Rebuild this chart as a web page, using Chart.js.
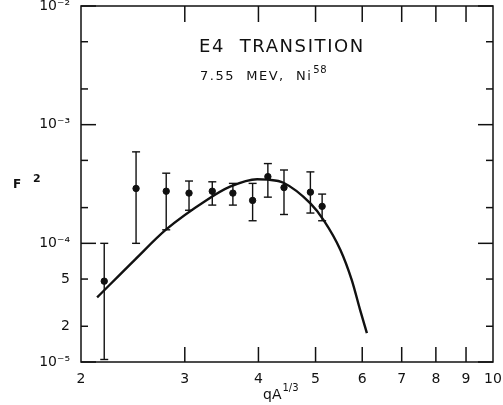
<!DOCTYPE html>
<html>
<head>
<meta charset="utf-8">
<script src="https://cdn.jsdelivr.net/npm/chart.js@4"></script>
<style>
  body { margin: 0; background: #fff; }
</style>
</head>
<body>
<canvas id="chart" width="503" height="405"></canvas>
<script>
// measured points (qA^1/3, F^2) with error bar ends
const qData = [2.19, 2.48, 2.79, 3.05, 3.34, 3.62, 3.91, 4.15, 4.42, 4.90, 5.13];
const f2Data = [4.8e-5, 2.9e-4, 2.75e-4, 2.65e-4, 2.75e-4, 2.65e-4, 2.3e-4, 3.65e-4, 2.95e-4, 2.7e-4, 2.05e-4];
const f2High = [1.0e-4, 5.9e-4, 3.9e-4, 3.35e-4, 3.3e-4, 3.2e-4, 3.2e-4, 4.7e-4, 4.15e-4, 4.0e-4, 2.6e-4];
const f2Low = [1.05e-5, 1.0e-4, 1.3e-4, 1.9e-4, 2.1e-4, 2.1e-4, 1.55e-4, 2.45e-4, 1.75e-4, 1.8e-4, 1.55e-4];

// theory curve
const curveQ = [2.13, 2.47, 2.79, 3.27, 3.58, 3.98, 4.15, 4.41, 4.90, 5.16, 5.51, 5.76, 5.95, 6.11];
const curveF2 = [3.5e-5, 7.3e-5, 1.31e-4, 2.32e-4, 3.0e-4, 3.47e-4, 3.44e-4, 3.24e-4, 2.17e-4, 1.57e-4, 8.8e-5, 4.9e-5, 2.75e-5, 1.75e-5];

const xTicks = [2, 3, 4, 5, 6, 7, 8, 9, 10];
const yTicks = [1e-5, 2e-5, 5e-5, 1e-4, 2e-4, 5e-4, 1e-3, 2e-3, 5e-3, 1e-2];
const supers = { "-2": "⁻²", "-3": "⁻³", "-4": "⁻⁴", "-5": "⁻⁵" };

const FONT = "'DejaVu Sans', sans-serif";

function isDecade(v) {
  const e = Math.log10(v);
  return Math.abs(e - Math.round(e)) < 1e-6;
}

function line(ctx, x1, y1, x2, y2) {
  ctx.beginPath();
  ctx.moveTo(x1, y1);
  ctx.lineTo(x2, y2);
  ctx.stroke();
}

const errorBars = {
  id: "errorBars",
  afterDatasetsDraw(chart) {
    const { ctx, scales: { x, y } } = chart;
    ctx.save();
    ctx.strokeStyle = "#111";
    ctx.lineWidth = 1.4;
    qData.forEach((q, i) => {
      const px = x.getPixelForValue(q);
      const top = y.getPixelForValue(f2High[i]);
      const bot = y.getPixelForValue(f2Low[i]);
      line(ctx, px, top, px, bot);
      line(ctx, px - 4, top, px + 4, top);
      line(ctx, px - 4, bot, px + 4, bot);
    });
    ctx.restore();
  }
};

const frame = {
  id: "frame",
  afterDraw(chart) {
    const { ctx, chartArea: a, scales: { x, y } } = chart;
    ctx.save();
    ctx.strokeStyle = "#111";
    ctx.lineWidth = 1.5;
    ctx.strokeRect(a.left, a.top, a.right - a.left, a.bottom - a.top);

    yTicks.forEach(v => {
      const py = y.getPixelForValue(v);
      const len = isDecade(v) ? 15 : 7;
      line(ctx, a.left, py, a.left + len, py);
      line(ctx, a.right, py, a.right - len, py);
    });
    xTicks.slice(1, -1).forEach(v => {
      const px = x.getPixelForValue(v);
      line(ctx, px, a.bottom, px, a.bottom - 15);
      line(ctx, px, a.top, px, a.top + 16);
    });

    ctx.fillStyle = "#111";
    ctx.textBaseline = "alphabetic";
    ctx.textAlign = "left";
    // title
    ctx.letterSpacing = "1.6px";
    ctx.font = "18px " + FONT;
    ctx.fillText("E4  TRANSITION", 199, 52);
    ctx.letterSpacing = "1.5px";
    ctx.font = "13px " + FONT;
    ctx.fillText("7.55  MEV,  Ni", 200, 80);
    const w = ctx.measureText("7.55  MEV,  Ni").width;
    ctx.letterSpacing = "0.5px";
    ctx.font = "10px " + FONT;
    ctx.fillText("58", 200 + w + 1, 73);
    ctx.letterSpacing = "0px";

    // y axis title
    ctx.font = "bold 12px " + FONT;
    ctx.fillText("F", 13, 188);
    ctx.font = "bold 11px " + FONT;
    ctx.fillText("2", 33, 182);

    // x axis title
    ctx.font = "14px " + FONT;
    ctx.fillText("qA", 263, 399);
    const w2 = ctx.measureText("qA").width;
    ctx.font = "10px " + FONT;
    ctx.fillText("1/3", 263 + w2 + 1, 391);
    ctx.restore();
  }
};

new Chart(document.getElementById("chart"), {
  type: "scatter",
  data: {
    datasets: [
      {
        label: "data",
        data: qData.map((q, i) => ({ x: q, y: f2Data[i] })),
        backgroundColor: "#111",
        borderColor: "#111",
        pointRadius: 3.2,
        showLine: false
      },
      {
        label: "theory",
        data: curveQ.map((q, i) => ({ x: q, y: curveF2[i] })),
        borderColor: "#111",
        borderWidth: 2.4,
        pointRadius: 0,
        showLine: true,
        cubicInterpolationMode: "monotone"
      }
    ]
  },
  options: {
    responsive: false,
    animation: false,
    layout: { padding: { top: 6, right: 10, left: 0, bottom: 0 } },
    plugins: {
      legend: { display: false },
      tooltip: { enabled: false }
    },
    scales: {
      x: {
        type: "logarithmic",
        min: 2,
        max: 10,
        afterBuildTicks: s => { s.ticks = xTicks.map(v => ({ value: v })); },
        afterFit: s => { s.height = 43; s.paddingLeft = 0; s.paddingRight = 0; },
        grid: { display: false, drawTicks: false },
        border: { display: false },
        ticks: {
          autoSkip: false,
          maxRotation: 0,
          padding: 9,
          color: "#111",
          font: { family: FONT, size: 14 },
          callback: v => String(v)
        }
      },
      y: {
        type: "logarithmic",
        min: 1e-5,
        max: 1e-2,
        afterBuildTicks: s => { s.ticks = yTicks.map(v => ({ value: v })); },
        afterFit: s => { s.width = 81; s.paddingTop = 0; s.paddingBottom = 0; },
        grid: { display: false, drawTicks: false },
        border: { display: false },
        ticks: {
          autoSkip: false,
          padding: 11,
          color: "#111",
          font: { family: FONT, size: 14 },
          callback: v => {
            if (isDecade(v)) return "10" + supers[String(Math.round(Math.log10(v)))];
            if (v > 1.5e-5 && v < 6e-5) return String(Math.round(v / 1e-5));
            return "";
          }
        }
      }
    }
  },
  plugins: [errorBars, frame]
});
</script>
</body>
</html>
